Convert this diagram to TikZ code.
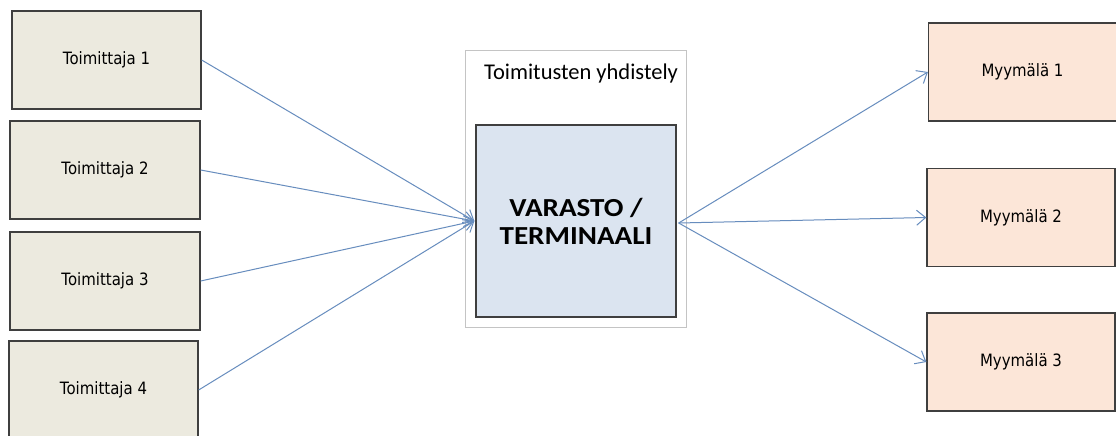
\documentclass[tikz,border=0pt]{standalone}
\usepackage{fontspec}
\usetikzlibrary{arrows.meta}
\newfontfamily\tahoma[FakeStretch=0.88]{DejaVu Sans}
\newfontfamily\calib{Carlito}
\newfontfamily\calibbold[FakeStretch=1.12]{Carlito Bold}
\definecolor{supfill}{HTML}{ECEADF}
\definecolor{shopfill}{HTML}{FCE6D8}
\definecolor{hubfill}{HTML}{DBE4F0}
\definecolor{edge}{HTML}{3F3F3F}
\definecolor{arrowc}{HTML}{678DBE}
\definecolor{frame}{HTML}{C4C4C4}
\tikzset{
  supbox/.style={draw=edge, line width=1.3pt, fill=supfill, minimum width=189pt, minimum height=98pt, inner sep=0pt, font=\tahoma\fontsize{17}{20}\selectfont},
  shopbox/.style={draw=edge, line width=1.3pt, fill=shopfill, minimum width=188pt, minimum height=98pt, inner sep=0pt, font=\tahoma\fontsize{17}{20}\selectfont},
  flow/.style={draw=arrowc, line width=1pt, -{Straight Barb[length=9pt,width=15pt,line width=1pt]}}
}
\begin{document}
\begin{tikzpicture}[x=1pt,y=-1pt]
\useasboundingbox (0,0) rectangle (1116,436);
\clip (0,0) rectangle (1116,436);
\fill[white] (0,0) rectangle (1116,436);
% container
\node[draw=frame, line width=1pt, fill=white, minimum width=221pt, minimum height=276pt, inner sep=0pt] (cont) at (575.5,189) {};
\node[font=\calib\fontsize{22.5}{26}\selectfont, inner sep=0pt] (title) at (581,74) {Toimitusten yhdistely};
\node[draw=edge, line width=1.3pt, fill=hubfill, minimum width=200pt, minimum height=192pt, inner sep=0pt, align=center, font=\calibbold\fontsize{26}{28}\selectfont] (hub) at (576,221) {VARASTO /\\TERMINAALI};
% suppliers
\node[supbox] (s1) at (106.5,60) {Toimittaja 1};
\node[supbox, minimum width=190pt] (s2) at (105,170) {Toimittaja 2};
\node[supbox, minimum width=190pt] (s3) at (105,281) {Toimittaja 3};
\node[supbox] (s4) at (103.5,390) {Toimittaja 4};
% shops
\node[shopbox] (m1) at (1022.5,72) {Myymälä 1};
\node[shopbox] (m2) at (1021,217.5) {Myymälä 2};
\node[shopbox] (m3) at (1021,362) {Myymälä 3};
% connectors
\coordinate (hin) at ([xshift=-1pt]hub.west);
\coordinate (hout) at ([xshift=2pt,yshift=-2pt]hub.east);
\draw[flow] (s1.east) -- (hin);
\draw[flow] (s2.east) -- (hin);
\draw[flow] (s3.east) -- (hin);
\draw[flow] (s4.east) -- (hin);
\draw[flow] (hout) -- (m1.west);
\draw[flow] (hout) -- (m2.west);
\draw[flow] (hout) -- (m3.west);
\end{tikzpicture}
\end{document}
